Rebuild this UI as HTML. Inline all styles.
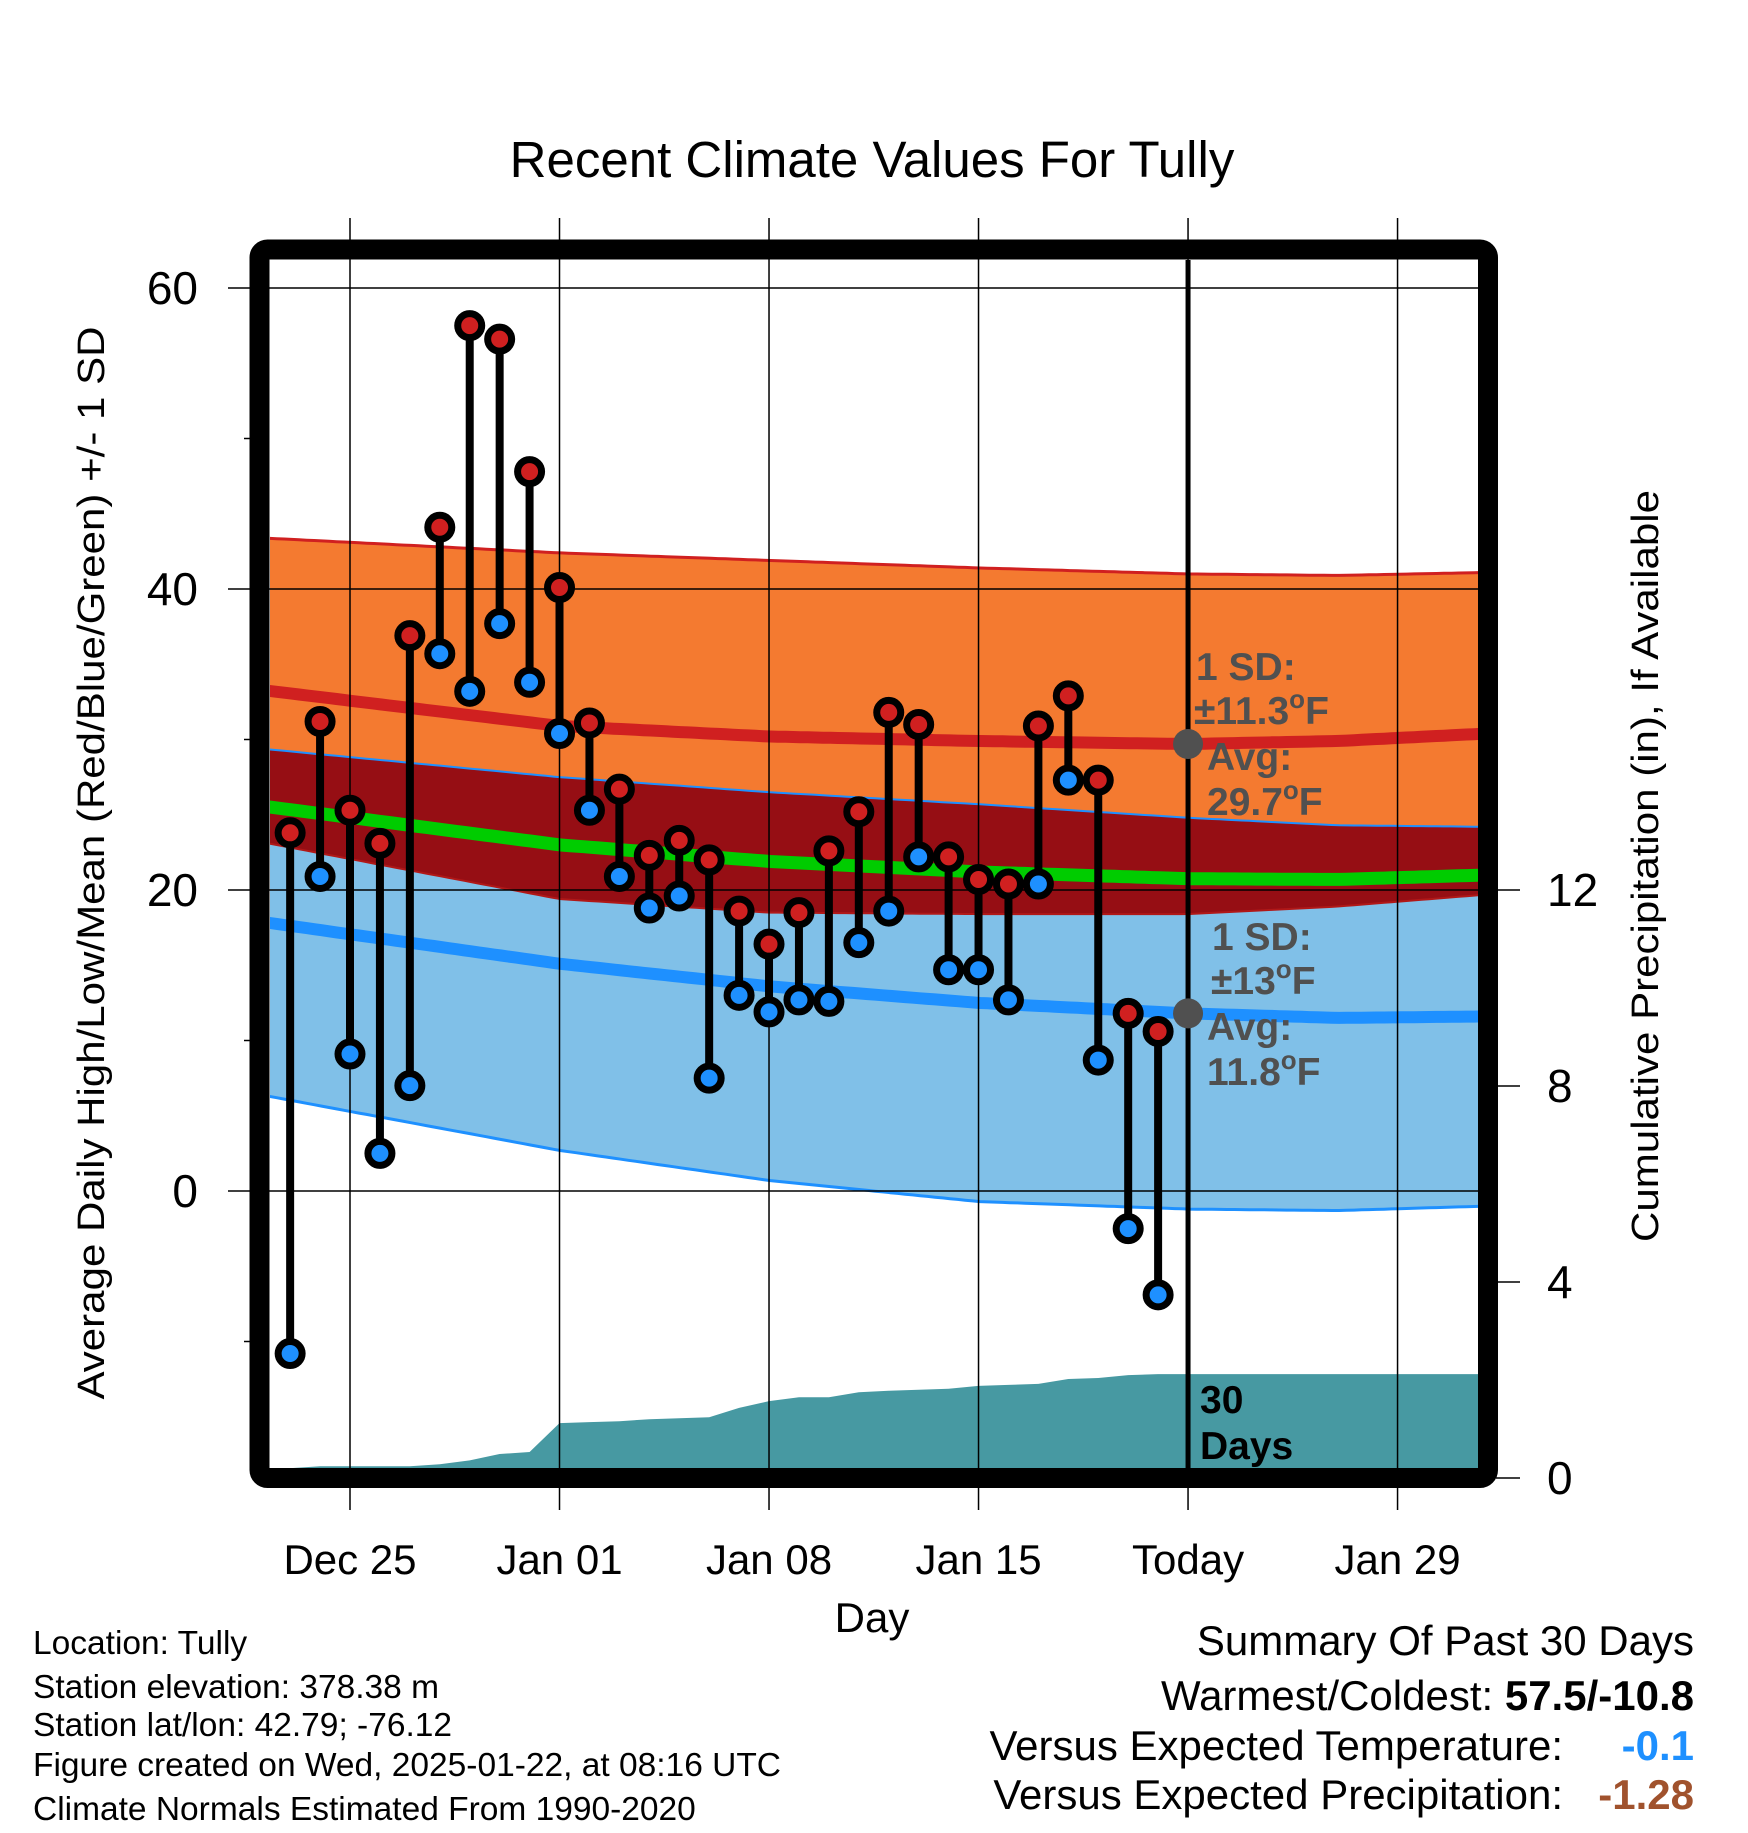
<!DOCTYPE html>
<html><head><meta charset="utf-8"><style>
html,body{margin:0;padding:0;background:#fff}
svg text{font-family:"Liberation Sans",Arial,sans-serif}
</style></head><body>
<svg id="chart" xmlns="http://www.w3.org/2000/svg" width="1748" height="1828" viewBox="0 0 1748 1828">
<defs><clipPath id="plotclip"><rect x="270" y="260" width="1208" height="1208"/></clipPath></defs>
<rect width="1748" height="1828" fill="#fff"/>
<text x="872" y="177" font-size="51" text-anchor="middle">Recent Climate Values For Tully</text>
<g id="fills" clip-path="url(#plotclip)"></g>
<g id="grid"></g>
<g id="marks" clip-path="url(#plotclip)"></g>
<g id="annot"></g>
<rect x="259.5" y="249.5" width="1228.5" height="1228.5" rx="8" fill="none" stroke="#000" stroke-width="20"/>
<text x="872" y="1632" font-size="42" text-anchor="middle">Day</text>
<text transform="translate(104,863) rotate(-90)" font-size="38" text-anchor="middle" textLength="1073" lengthAdjust="spacingAndGlyphs">Average Daily High/Low/Mean (Red/Blue/Green) +/- 1 SD</text>
<text transform="translate(1658,866) rotate(-90)" font-size="38" text-anchor="middle" textLength="752" lengthAdjust="spacingAndGlyphs">Cumulative Precipitation (in), If Available</text>
<g font-size="33.5">
<text x="33" y="1654">Location: Tully</text>
<text x="33" y="1698">Station elevation: 378.38 m</text>
<text x="33" y="1736">Station lat/lon: 42.79; -76.12</text>
<text x="33" y="1776">Figure created on Wed, 2025-01-22, at 08:16 UTC</text>
<text x="33" y="1820">Climate Normals Estimated From 1990-2020</text>
</g>
<g font-size="42">
<text x="1694" y="1655" text-anchor="end">Summary Of Past 30 Days</text>
<text x="1694" y="1710" text-anchor="end">Warmest/Coldest: <tspan font-weight="bold">57.5/-10.8</tspan></text>
<text x="1563" y="1760" text-anchor="end">Versus Expected Temperature:</text>
<text x="1694" y="1760" text-anchor="end" font-weight="bold" fill="#1e90ff">-0.1</text>
<text x="1563" y="1809" text-anchor="end">Versus Expected Precipitation:</text>
<text x="1694" y="1809" text-anchor="end" font-weight="bold" fill="#a0522d">-1.28</text>
</g>
</svg>
<script>
// observed data: day offsets from Dec 25
const obsDays = [-2,-1,0,1,2,3,4,5,6,7,8,9,10,11,12,13,14,15,16,17,18,19,20,21,22,23,24,25,26,27];
const highs = [23.8,31.2,25.3,23.1,36.9,44.1,57.5,56.6,47.8,40.1,31.1,26.7,22.3,23.3,22.0,18.6,16.4,18.5,22.6,25.2,31.8,31.0,22.2,20.7,20.4,30.9,32.9,27.3,11.8,10.6];
const lows = [-10.8,20.9,9.1,2.5,7.0,35.7,33.2,37.7,33.8,30.4,25.3,20.9,18.8,19.6,7.5,13.0,11.9,12.7,12.6,16.5,18.6,22.2,14.7,14.7,12.7,20.4,27.3,8.7,-2.5,-6.9];
const precip = [0.20,0.24,0.24,0.24,0.24,0.28,0.36,0.49,0.53,1.12,1.14,1.16,1.20,1.22,1.24,1.43,1.57,1.65,1.65,1.75,1.78,1.80,1.82,1.88,1.90,1.92,2.02,2.04,2.10,2.12];
// climate normals
const normDays = [-3,7,14,21,28,33,38];
const hiMean = [33.3,30.9,30.2,29.9,29.7,29.9,30.4];
const hiSD = [10.1,11.5,11.7,11.5,11.3,11.0,10.7];
const loMean = [17.9,15.1,13.6,12.5,11.8,11.5,11.6];
const loSD = [11.5,12.4,12.9,13.2,13.0,12.8,12.6];
// axes
const yTicks = [0,20,40,60];
const yMinor = [-10,10,30,50];
const pTicks = [0,4,8,12];
const xTickDays = [0,7,14,21,28,35];
const xTickLabels = ["Dec 25","Jan 01","Jan 08","Jan 15","Today","Jan 29"];
const todayDay = 28;

const NS="http://www.w3.org/2000/svg";
const X = d => 350 + 29.93*d;
const Y = v => 288 + (60 - v)*15.05;
const P = p => 1478 - 49*p;
const D0 = -2.7, D1 = 37.8;
function mk(tag, attrs, parent){const e=document.createElementNS(NS,tag);for(const k in attrs)e.setAttribute(k,attrs[k]);parent.appendChild(e);return e;}
function interp(arr,d){
  if(d<=normDays[0])return arr[0]+(arr[1]-arr[0])*(d-normDays[0])/(normDays[1]-normDays[0]);
  for(let i=0;i<normDays.length-1;i++){if(d<=normDays[i+1]){const t=(d-normDays[i])/(normDays[i+1]-normDays[i]);return arr[i]+(arr[i+1]-arr[i])*t;}}
  const n=normDays.length;return arr[n-1]+(arr[n-1]-arr[n-2])*(d-normDays[n-1])/(normDays[n-1]-normDays[n-2]);
}
const samples=[];for(let d=D0;d<=D1+0.01;d+=0.25)samples.push(d);
const f = {
  hiTop: d=>interp(hiMean,d)+interp(hiSD,d), hiBot: d=>interp(hiMean,d)-interp(hiSD,d),
  loTop: d=>interp(loMean,d)+interp(loSD,d), loBot: d=>interp(loMean,d)-interp(loSD,d),
  hm: d=>interp(hiMean,d), lm: d=>interp(loMean,d), mm: d=>(interp(hiMean,d)+interp(loMean,d))/2
};
function line(fn){return samples.map(d=>X(d).toFixed(1)+","+Y(fn(d)).toFixed(1)).join(" ");}
function band(ft,fb){return samples.map(d=>X(d).toFixed(1)+","+Y(ft(d)).toFixed(1)).concat(samples.slice().reverse().map(d=>X(d).toFixed(1)+","+Y(fb(d)).toFixed(1))).join(" ");}
const fills=document.getElementById('fills');
let e;
e=mk('polygon',{points:band(f.hiTop,f.hiBot),fill:'#f47a30'},fills);


e=mk('polygon',{points:band(f.loTop,f.loBot),fill:'#80c0e8'},fills);


e=mk('polygon',{points:band(f.loTop,f.hiBot),fill:'#960e14'},fills);


const lines=[[f.hiTop,'#d02020',3,'high-plus-sd-line'],[f.loTop,'#1e90ff',2,'low-plus-sd-line'],[f.hiBot,'#b01818',2,'high-minus-sd-line'],[f.loBot,'#1e90ff',3,'low-minus-sd-line'],[f.hm,'#d02020',12,'high-mean-line'],[f.lm,'#1e90ff',12,'low-mean-line'],[f.mm,'#00cc00',13,'mean-line']];
for(const [fn,c,w,n] of lines){
  e=mk('polyline',{points:line(fn),fill:'none',stroke:c,'stroke-width':w},fills);
  
  
}
// precip area
let pts=[X(obsDays[0])+","+1470];
obsDays.forEach((d,i)=>pts.push(X(d).toFixed(1)+","+P(precip[i]).toFixed(1)));
pts.push(X(D1)+","+P(precip[precip.length-1]).toFixed(1));
pts.push(X(D1)+",1470");
e=mk('polygon',{points:pts.join(" "),fill:'#4799a2'},fills);



// grid
const grid=document.getElementById('grid');
xTickDays.forEach((d,i)=>{
  e=mk('line',{x1:X(d),x2:X(d),y1:218,y2:1510,stroke:'#000','stroke-width':1.5},grid);
  
  
  e=mk('text',{x:X(d),y:1574,'font-size':42,'text-anchor':'middle'},grid);
  e.textContent=xTickLabels[i];
  
  
});
yTicks.forEach(v=>{
  e=mk('line',{x1:228,x2:1478,y1:Y(v),y2:Y(v),stroke:'#000','stroke-width':1.5},grid);
  
  
  e=mk('text',{x:198,y:Y(v)+16,'font-size':46,'text-anchor':'end'},grid);
  e.textContent=v;
  
  
});
yMinor.forEach(v=>{
  e=mk('line',{x1:244,x2:252,y1:Y(v),y2:Y(v),stroke:'#000','stroke-width':1.5},grid);
  
  
});
pTicks.forEach(p=>{
  e=mk('line',{x1:1496,x2:1520,y1:P(p),y2:P(p),stroke:'#000','stroke-width':1.5},grid);
  
  
  e=mk('text',{x:1547,y:P(p)+16,'font-size':46},grid);
  e.textContent=p;
  
  
});

// marks
const marks=document.getElementById('marks');
obsDays.forEach((d,i)=>{
  e=mk('line',{x1:X(d),x2:X(d),y1:Y(highs[i]),y2:Y(lows[i]),stroke:'#000','stroke-width':8},marks);
  
  
});
obsDays.forEach((d,i)=>{
  e=mk('circle',{cx:X(d),cy:Y(highs[i]),r:12,fill:'#d02020',stroke:'#000','stroke-width':7},marks);
  
  
  e=mk('circle',{cx:X(d),cy:Y(lows[i]),r:12,fill:'#1e90ff',stroke:'#000','stroke-width':7},marks);
  
  
});
e=mk('line',{x1:X(todayDay),x2:X(todayDay),y1:260,y2:1468,stroke:'#000','stroke-width':5},marks);


const tHm=interp(hiMean,todayDay), tLm=interp(loMean,todayDay);
e=mk('circle',{cx:X(todayDay),cy:Y(tHm),r:15,fill:'#505050'},marks);


e=mk('circle',{cx:X(todayDay),cy:Y(tLm),r:15,fill:'#505050'},marks);



// annotations
const an=document.getElementById('annot');
function t(x,y,html,name,fill){const el=mk('text',{x:x,y:y,'font-size':39,'font-weight':'bold',fill:fill||'#505050'},an);el.innerHTML=html;return el;}
const deg='<tspan dy="-16" font-size="26">o</tspan><tspan dy="16">F</tspan>';
t(1196,680,'1 SD:','high-sd-label');
t(1194,724,'±11.3'+deg,'high-sd-value');
t(1207,770,'Avg:','high-avg-label');
t(1207,815,'29.7'+deg,'high-avg-value');
t(1212,950,'1 SD:','low-sd-label');
t(1211,994,'±13'+deg,'low-sd-value');
t(1207,1040,'Avg:','low-avg-label');
t(1207,1085,'11.8'+deg,'low-avg-value');
t(1200,1413,'30','days-label-num','#000');
t(1200,1459,'Days','days-label','#000');
</script>
</body></html>
